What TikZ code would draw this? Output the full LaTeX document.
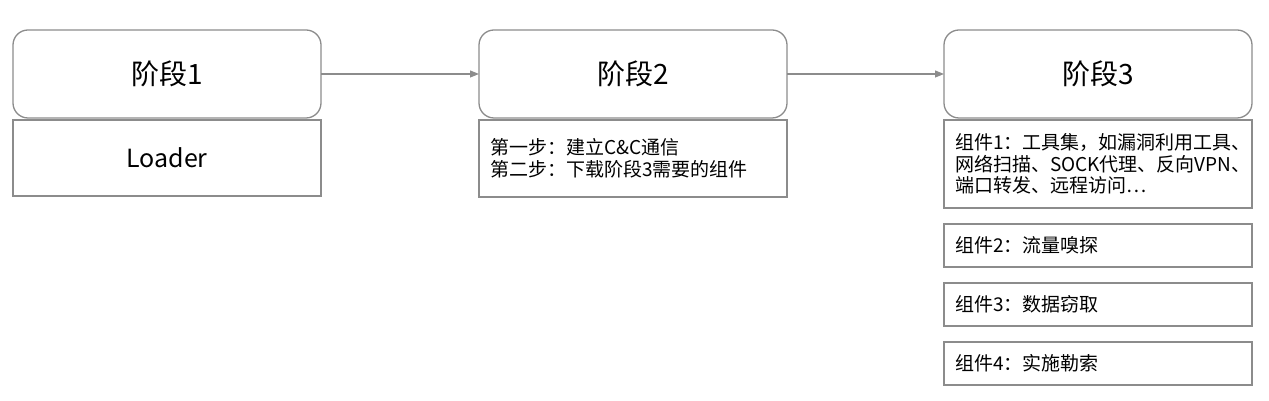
\documentclass[tikz,border=0pt]{standalone}
\usepackage{fontspec}
\setmainfont{Noto Sans CJK SC}
\usetikzlibrary{arrows.meta,positioning}
\definecolor{boxgray}{HTML}{8C8C8C}

\begin{document}
\begin{tikzpicture}[x=1pt,y=1pt,>={Triangle[length=9pt,width=7pt]},
    node distance=2pt,
    stage/.style={draw=boxgray,line width=1.3pt,outer sep=0pt,rounded corners=15pt,
      minimum width=308pt,minimum height=88pt,font=\fontsize{28}{32}\selectfont},
    part/.style={draw=boxgray,line width=1.3pt,outer sep=0pt,minimum width=308pt,
      inner xsep=11pt,text width=286pt,align=left,font=\fontsize{19}{21.5}\selectfont},
    link/.style={->,draw=boxgray,line width=1.1pt}]
  \useasboundingbox (0,0) rectangle (1269,401);

  \node[stage] (s1) at (167,327) {阶段1};
  \node[stage] (s2) [right=158pt of s1] {阶段2};
  \node[stage] (s3) [right=157pt of s2] {阶段3};

  \node[part,minimum height=76pt,align=center,font=\fontsize{25}{28}\selectfont]
    (loader) [below=of s1] {Loader};
  \node[part,minimum height=77pt] (steps) [below=of s2]
    {第一步：建立C\&C通信\\第二步：下载阶段3需要的组件};

  \node[part,minimum height=88pt] (c1) [below=of s3]
    {组件1：工具集，如漏洞利用工具、\\网络扫描、SOCK代理、反向VPN、\\端口转发、远程访问…};
  \node[part,minimum height=43pt] (c2) [below=16pt of c1] {组件2：流量嗅探};
  \node[part,minimum height=43pt] (c3) [below=16pt of c2] {组件3：数据窃取};
  \node[part,minimum height=43pt] (c4) [below=16pt of c3] {组件4：实施勒索};

  \draw[link] (s1) -- (s2);
  \draw[link] (s2) -- (s3);
\end{tikzpicture}
\end{document}
